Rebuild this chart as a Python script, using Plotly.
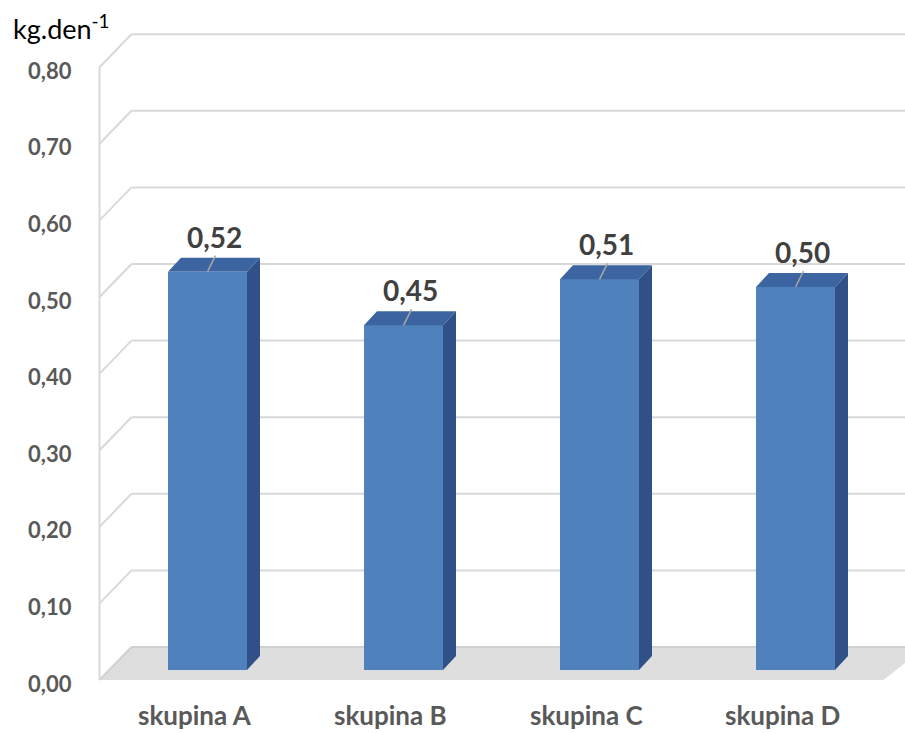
import plotly.graph_objects as go

# ---- data ----
categories = ["skupina A", "skupina B", "skupina C", "skupina D"]
values = [0.52, 0.45, 0.51, 0.50]
tick_values = [0.0, 0.1, 0.2, 0.3, 0.4, 0.5, 0.6, 0.7, 0.8]
tick_labels = ["0,00", "0,10", "0,20", "0,30", "0,40", "0,50", "0,60", "0,70", "0,80"]
unit_label = "kg.den<sup>-1</sup>"

# ---- geometry (pixels per data unit on the bar plane) ----
W, H = 905, 733
SX = 196.0      # px per category step
SY = 766.0      # px per value unit
X0 = 207.5      # px position of first category
Y0 = 670.0      # px position of value 0 on the bar plane


def dx(px):
    return px / SX


def dv(px):  # screen px downward -> value offset
    return -px / SY


# depth offsets of the planes relative to the bar plane (screen px)
FRONT = (-10, 10)
BACK = (22, -23)
DEPTH = (13, -14)
HALF_W = 0.5 * 79 / SX
X_LEFT, X_RIGHT = -0.5, 3.5

FRONT_C = "#4f81bd"
TOP_C = "#3c64a0"
SIDE_C = "#2f5187"
GRID_C = "#d9d9d9"

shapes = []


def path(xs_, ys_):
    return "M " + " L ".join(f"{a},{b}" for a, b in zip(xs_, ys_)) + " Z"


# floor
fx = [X_LEFT + dx(FRONT[0]), X_LEFT + dx(BACK[0]), X_RIGHT + dx(BACK[0]) + dx(10), X_RIGHT + dx(FRONT[0])]
fy = [dv(FRONT[1]), dv(BACK[1]), dv(BACK[1]), dv(FRONT[1])]
shapes.append(dict(type="path", path=path(fx, fy), xref="x", yref="y", layer="below",
                   fillcolor="#dedede", line=dict(width=0)))

# walls: back gridlines, left-wall diagonals, left vertical edge
xb = X_LEFT + dx(BACK[0])
xf = X_LEFT + dx(FRONT[0])
for g in tick_values:
    yb = g + dv(BACK[1])
    yf = g + dv(FRONT[1])
    col = GRID_C if g > 0 else "#d0d0d0"
    shapes.append(dict(type="line", xref="x", yref="y", layer="below", x0=xf, y0=yf, x1=xb, y1=yb,
                       line=dict(color=col, width=2)))
    shapes.append(dict(type="line", xref="x", yref="y", layer="below", x0=xb, y0=yb,
                       x1=X_RIGHT + dx(BACK[0]) + dx(20), y1=yb, line=dict(color=col, width=2)))
shapes.append(dict(type="line", xref="x", yref="y", layer="below",
                   x0=xf, y0=tick_values[0] + dv(FRONT[1]), x1=xf, y1=tick_values[-1] + dv(FRONT[1]),
                   line=dict(color=GRID_C, width=2)))

fig = go.Figure()

# bar front faces
xs = list(range(len(categories)))
fig.add_trace(go.Bar(x=xs, y=values, width=2 * HALF_W, marker=dict(color=FRONT_C, line=dict(width=0)),
                     hoverinfo="skip", showlegend=False))

# bar side and top faces
for c, v in zip(xs, values):
    ddx, ddv = dx(DEPTH[0]), dv(DEPTH[1])
    r = c + HALF_W
    l = c - HALF_W
    fig.add_trace(go.Scatter(x=[r, r + ddx, r + ddx, r, r], y=[0, ddv, v + ddv, v, 0],
                             fill="toself", fillcolor=SIDE_C, mode="lines", line=dict(width=0),
                             hoverinfo="skip", showlegend=False))
    fig.add_trace(go.Scatter(x=[l, l + ddx, r + ddx, r, l], y=[v, v + ddv, v + ddv, v, v],
                             fill="toself", fillcolor=TOP_C, mode="lines", line=dict(width=0),
                             hoverinfo="skip", showlegend=False))
    # leader line from label to bar top
    fig.add_trace(go.Scatter(x=[c + dx(8), c], y=[v + dv(-16), v], mode="lines",
                             line=dict(color="#a6a6a6", width=1.5),
                             hoverinfo="skip", showlegend=False))
    fig.add_annotation(x=c + dx(7), y=v + dv(-35), text=f"{v:.2f}".replace(".", ","),
                       showarrow=False, xanchor="center", yanchor="middle",
                       font=dict(family="Lato", size=28, color="#404040", weight="bold"))

# value axis tick labels on the front wall
for g, t in zip(tick_values, tick_labels):
    fig.add_annotation(x=(74 - X0) / SX, y=g + dv(FRONT[1] + 3), text=t, showarrow=False,
                       xanchor="right", yanchor="middle",
                       font=dict(family="Lato", size=22, color="#595959", weight="bold"))

# category labels
for c, name in zip(xs, categories):
    fig.add_annotation(x=c + dx(-13), y=dv(715 - Y0), text=name, showarrow=False,
                       xanchor="center", yanchor="middle",
                       font=dict(family="Lato", size=26, color="#595959", weight="bold"))

# unit label
fig.add_annotation(x=(11 - X0) / SX, y=dv(27 - Y0), text=unit_label, showarrow=False,
                   xanchor="left", yanchor="middle",
                   font=dict(family="Lato", size=27, color="#000000"))

fig.update_layout(
    width=W, height=H,
    margin=dict(l=0, r=0, t=0, b=0),
    paper_bgcolor="white", plot_bgcolor="white",
    xaxis=dict(range=[(0 - X0) / SX, (W - X0) / SX], visible=False, fixedrange=True),
    yaxis=dict(range=[(Y0 - H) / SY, Y0 / SY], visible=False, fixedrange=True),
    bargap=0,
    shapes=shapes,
)

fig.write_html("out.html")
